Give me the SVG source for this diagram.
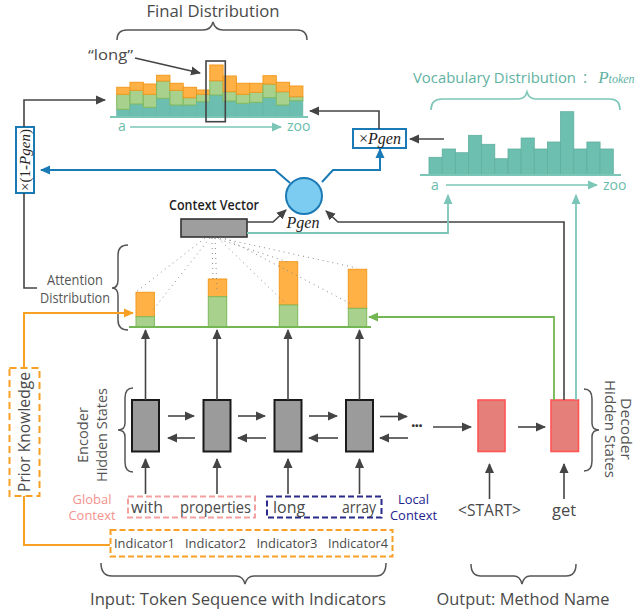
<svg xmlns="http://www.w3.org/2000/svg" width="635" height="613" viewBox="0 0 635 613">
<style>
text{font-family:"Open Sans","Noto Sans",sans-serif;fill:#4a4a4a}
.ser{font-family:"Liberation Serif","DejaVu Serif",serif;fill:#222}
.it{font-style:italic}
.ln{fill:none;stroke:#444;stroke-width:1.6}
.bl{fill:none;stroke:#1a7ab5;stroke-width:2}
.tl{fill:none;stroke:#7cc6b7;stroke-width:1.8}
.gr{fill:none;stroke:#74b653;stroke-width:1.8}
.or{fill:none;stroke:#f7a024;stroke-width:2}
.br{fill:none;stroke:#555;stroke-width:1.5}
.fo{fill:#ffb146;stroke:#f29a1e;stroke-width:1}
.fg{fill:#a9d18e;stroke:#7fb95c;stroke-width:1}
.ft{fill:#6cbfb0;stroke:#62b6a6;stroke-width:0.6}
.vb{fill:#6dbfaf;stroke:#5fb09f;stroke-width:0.8}
.enc{fill:#9b9b9b;stroke:#1a1a1a;stroke-width:2}
.dec{fill:#e57f7a;stroke:#ff5555;stroke-width:1.6}
.dot{fill:none;stroke:#888;stroke-width:1;stroke-dasharray:1 4}
</style>
<defs>
<marker id="ad" markerUnits="userSpaceOnUse" markerWidth="10" markerHeight="10" viewBox="0 0 10 10" refX="9" refY="5" orient="auto"><path d="M0,0.5 L10,5 L0,9.5 z" fill="#444"/></marker>
<marker id="ab" markerUnits="userSpaceOnUse" markerWidth="10" markerHeight="10" viewBox="0 0 10 10" refX="9" refY="5" orient="auto"><path d="M0,0.5 L10,5 L0,9.5 z" fill="#1a7ab5"/></marker>
<marker id="at" markerUnits="userSpaceOnUse" markerWidth="10" markerHeight="10" viewBox="0 0 10 10" refX="9" refY="5" orient="auto"><path d="M0,0.5 L10,5 L0,9.5 z" fill="#7cc6b7"/></marker>
<marker id="ag" markerUnits="userSpaceOnUse" markerWidth="10" markerHeight="10" viewBox="0 0 10 10" refX="9" refY="5" orient="auto"><path d="M0,0.5 L10,5 L0,9.5 z" fill="#74b653"/></marker>
<marker id="ao" markerUnits="userSpaceOnUse" markerWidth="10" markerHeight="10" viewBox="0 0 10 10" refX="9" refY="5" orient="auto"><path d="M0,0.5 L10,5 L0,9.5 z" fill="#f7a024"/></marker>
</defs>

<g id="final-distribution">
<text x="213" y="16.5" font-size="16" text-anchor="middle" textLength="133" lengthAdjust="spacingAndGlyphs">Final Distribution</text>
<path class="br" d="M117,40 Q117,30 127,30 L203,30 Q211,30 213,22 Q215,30 223,30 L297,30 Q307,30 307,40"/>
<text x="88" y="60" font-size="15" textLength="45" lengthAdjust="spacingAndGlyphs">“long”</text>
<line class="ln" x1="135" y1="58" x2="200" y2="73" marker-end="url(#ad)"/>
<g>
<rect class="ft" x="116.7" y="109.3" width="13.3" height="7.7"/><rect class="fg" x="116.7" y="94.3" width="13.3" height="15"/><rect class="fo" x="116.7" y="87.3" width="13.3" height="7"/>
<rect class="ft" x="130" y="104" width="13.3" height="13"/><rect class="fg" x="130" y="90.3" width="13.3" height="13.7"/><rect class="fo" x="130" y="82.3" width="13.3" height="8"/>
<rect class="ft" x="143.3" y="107.3" width="13.3" height="9.7"/><rect class="fg" x="143.3" y="94.3" width="13.3" height="13"/><rect class="fo" x="143.3" y="84" width="13.3" height="10.3"/>
<rect class="ft" x="156.6" y="98.3" width="13.3" height="18.7"/><rect class="fg" x="156.6" y="81" width="13.3" height="17.3"/><rect class="fo" x="156.6" y="75.3" width="13.3" height="5.7"/>
<rect class="ft" x="169.9" y="105" width="13.3" height="12"/><rect class="fg" x="169.9" y="90.3" width="13.3" height="14.7"/><rect class="fo" x="169.9" y="83.3" width="13.3" height="7"/>
<rect class="ft" x="183.2" y="105" width="13.3" height="12"/><rect class="fg" x="183.2" y="97.7" width="13.3" height="7.3"/><rect class="fo" x="183.2" y="87.3" width="13.3" height="10.4"/>
<rect class="ft" x="196.5" y="101.7" width="13.3" height="15.3"/><rect class="fg" x="196.5" y="94.3" width="13.3" height="7.4"/><rect class="fo" x="196.5" y="90" width="13.3" height="4.3"/>
<rect class="ft" x="209.8" y="95" width="13.3" height="22"/><rect class="fg" x="209.8" y="80.7" width="13.3" height="14.3"/><rect class="fo" x="209.8" y="65" width="13.3" height="15.7"/>
<rect class="ft" x="223.1" y="101" width="13.3" height="16"/><rect class="fg" x="223.1" y="91.7" width="13.3" height="9.3"/><rect class="fo" x="223.1" y="76" width="13.3" height="15.7"/>
<rect class="ft" x="236.4" y="103.3" width="13.3" height="13.7"/><rect class="fg" x="236.4" y="94.3" width="13.3" height="9"/><rect class="fo" x="236.4" y="83.3" width="13.3" height="11"/>
<rect class="ft" x="249.7" y="102.3" width="13.3" height="14.7"/><rect class="fg" x="249.7" y="92.3" width="13.3" height="10"/><rect class="fo" x="249.7" y="83.3" width="13.3" height="9"/>
<rect class="ft" x="263" y="97.7" width="13.3" height="19.3"/><rect class="fg" x="263" y="84" width="13.3" height="13.7"/><rect class="fo" x="263" y="75.7" width="13.3" height="8.3"/>
<rect class="ft" x="276.3" y="105" width="13.3" height="12"/><rect class="fg" x="276.3" y="91.7" width="13.3" height="13.3"/><rect class="fo" x="276.3" y="82.3" width="13.3" height="9.4"/>
<rect class="ft" x="289.6" y="100.7" width="13.3" height="16.3"/><rect class="fg" x="289.6" y="96.7" width="13.3" height="4"/><rect class="fo" x="289.6" y="86" width="13.3" height="10.7"/>
</g>
<line x1="110" y1="117" x2="308" y2="117" stroke="#7cc6b7" stroke-width="2"/>
<rect x="206" y="61" width="19.3" height="60.7" fill="none" stroke="#444" stroke-width="1.6"/>
<text x="118" y="131" font-size="14" style="fill:#6cbcad">a</text>
<line x1="130" y1="127" x2="281" y2="127" stroke="#7cc6b7" stroke-width="1.4" marker-end="url(#at)"/>
<text x="287" y="131" font-size="14" style="fill:#6cbcad">zoo</text>
</g>

<g id="vocabulary-distribution">
<text x="413" y="83" font-size="15" style="fill:#5fb2a2" textLength="163" lengthAdjust="spacingAndGlyphs">Vocabulary Distribution</text>
<text x="583" y="83" font-size="16" style="fill:#5fb2a2">:<tspan class="ser it" dx="11" font-size="17" style="fill:#5fb2a2">P</tspan><tspan class="ser it" font-size="12" style="fill:#5fb2a2">token</tspan></text>
<path d="M431,110 Q431,99 442,99 L518,99 Q525,99 527,92 Q529,99 536,99 L610,99 Q620,99 620,110" fill="none" stroke="#7cc6b7" stroke-width="1.6"/>
<g>
<rect class="vb" x="429" y="157.3" width="13.2" height="17.7"/>
<rect class="vb" x="442.2" y="149" width="13.2" height="26"/>
<rect class="vb" x="455.3" y="152.7" width="13.2" height="22.3"/>
<rect class="vb" x="468.5" y="135.3" width="13.2" height="39.7"/>
<rect class="vb" x="481.6" y="144.3" width="13.2" height="30.7"/>
<rect class="vb" x="494.8" y="158.7" width="13.2" height="16.3"/>
<rect class="vb" x="508" y="149" width="13.2" height="26"/>
<rect class="vb" x="521.1" y="138" width="13.2" height="37"/>
<rect class="vb" x="534.3" y="149" width="13.2" height="26"/>
<rect class="vb" x="547.4" y="142" width="13.2" height="33"/>
<rect class="vb" x="560.6" y="111.7" width="13.2" height="63.3"/>
<rect class="vb" x="573.8" y="149" width="13.2" height="26"/>
<rect class="vb" x="586.9" y="142" width="13.2" height="33"/>
<rect class="vb" x="600.1" y="149" width="13.2" height="26"/>
</g>
<line x1="420" y1="175" x2="621" y2="175" stroke="#7cc6b7" stroke-width="2"/>
<text x="431" y="190" font-size="14" style="fill:#6cbcad">a</text>
<line x1="446" y1="185" x2="597" y2="185" stroke="#7cc6b7" stroke-width="1.4" marker-end="url(#at)"/>
<text x="603" y="190" font-size="14" style="fill:#6cbcad">zoo</text>
</g>

<g id="times-one-minus-pgen">
<rect x="16" y="127" width="18" height="66" fill="#fff" stroke="#1a7ab5" stroke-width="2"/>
<text class="ser" transform="translate(29.5,160) rotate(-90)" font-size="15" text-anchor="middle">×(1-<tspan class="it">Pgen</tspan>)</text>
</g>

<g id="times-pgen">
<rect x="353" y="129" width="53" height="19" fill="#fff" stroke="#1a7ab5" stroke-width="2"/>
<text class="ser" x="380" y="143.5" font-size="16" text-anchor="middle">×<tspan class="it">Pgen</tspan></text>
</g>

<g id="pgen">
<circle cx="304" cy="196" r="18" fill="#7ccbf0" stroke="#1c7ab5" stroke-width="2"/>
<text class="ser it" x="303" y="228" font-size="16" text-anchor="middle">Pgen</text>
</g>

<g id="context-vector">
<text x="214" y="210" font-size="14" font-weight="600" text-anchor="middle" style="fill:#1e1e1e" textLength="90" lengthAdjust="spacingAndGlyphs">Context Vector</text>
<rect x="181" y="219" width="66" height="18" fill="#9e9e9e" stroke="#333" stroke-width="1.6"/>
</g>

<g id="attention-distribution">
<text x="75" y="285" font-size="14" text-anchor="middle" style="fill:#555" textLength="56" lengthAdjust="spacingAndGlyphs">Attention</text>
<text x="75" y="303" font-size="14" text-anchor="middle" style="fill:#555" textLength="70" lengthAdjust="spacingAndGlyphs">Distribution</text>
<path class="br" d="M128,245 Q118,245 118,255 L118,280 Q118,288 112,288 Q118,288 118,296 L118,320 Q118,330 128,330"/>
<rect class="fo" x="136" y="292.3" width="18.4" height="24.4"/><rect class="fg" x="136" y="316.7" width="18.4" height="10"/>
<rect class="fo" x="208.3" y="279" width="18.4" height="17.7"/><rect class="fg" x="208.3" y="296.7" width="18.4" height="30"/>
<rect class="fo" x="279.3" y="261.7" width="18.4" height="43.3"/><rect class="fg" x="279.3" y="305" width="18.4" height="21.7"/>
<rect class="fo" x="348.3" y="269.3" width="18.4" height="39"/><rect class="fg" x="348.3" y="308.3" width="18.4" height="18.4"/>
<line x1="129" y1="327" x2="371" y2="327" stroke="#74b653" stroke-width="2"/>
<g>
<line class="dot" x1="205" y1="238" x2="136" y2="292"/>
<line class="dot" x1="210" y1="238" x2="152" y2="311"/>
<line class="dot" x1="212" y1="238" x2="213" y2="281"/>
<line class="dot" x1="215" y1="238" x2="217" y2="292"/>
<line class="dot" x1="215" y1="238" x2="288" y2="262"/>
<line class="dot" x1="218" y1="238" x2="284" y2="302"/>
<line class="dot" x1="220" y1="238" x2="357" y2="268"/>
<line class="dot" x1="225" y1="238" x2="353" y2="305"/>
</g>
</g>

<g id="encoder">
<text transform="translate(88,435) rotate(-90)" font-size="15" text-anchor="middle" style="fill:#555" textLength="56" lengthAdjust="spacingAndGlyphs">Encoder</text>
<text transform="translate(107,435) rotate(-90)" font-size="15" text-anchor="middle" style="fill:#555" textLength="94" lengthAdjust="spacingAndGlyphs">Hidden States</text>
<path class="br" d="M133,388 Q125,388 125,398 L125,423 Q125,430 118,430 Q125,430 125,437 L125,462 Q125,472 133,472"/>
<rect id="enc1" class="enc" x="132" y="400" width="27" height="51.5"/>
<rect id="enc2" class="enc" x="203.5" y="400" width="27" height="51.5"/>
<rect id="enc3" class="enc" x="274.5" y="400" width="27" height="51.5"/>
<rect id="enc4" class="enc" x="346" y="400" width="27" height="51.5"/>
</g>

<g id="decoder">
<rect id="dec1" class="dec" x="478" y="400" width="27" height="51.5"/>
<rect id="dec2" class="dec" x="551" y="400" width="27.5" height="51.5"/>
<path class="br" d="M584,389 Q592,389 592,399 L592,423 Q592,430 599,430 Q592,430 592,437 L592,461 Q592,471 584,471"/>
<text transform="translate(605,429) rotate(90)" font-size="15" text-anchor="middle" style="fill:#555" textLength="98" lengthAdjust="spacingAndGlyphs">Hidden States</text>
<text transform="translate(620.5,429) rotate(90)" font-size="14.5" text-anchor="middle" style="fill:#555" textLength="62" lengthAdjust="spacingAndGlyphs">Decoder</text>
</g>

<g id="prior-knowledge">
<rect x="9.5" y="368" width="30" height="128" fill="none" stroke="#f7a024" stroke-width="2" stroke-dasharray="7 4"/>
<text transform="translate(30,432) rotate(-90)" font-size="15.5" text-anchor="middle" textLength="120" lengthAdjust="spacingAndGlyphs">Prior Knowledge</text>
</g>

<g id="global-context">
<text x="92" y="504" font-size="12.5" text-anchor="middle" style="fill:#f4938e" textLength="39" lengthAdjust="spacingAndGlyphs">Global</text>
<text x="92" y="520" font-size="12.5" text-anchor="middle" style="fill:#f4938e" textLength="47" lengthAdjust="spacingAndGlyphs">Context</text>
<rect x="128" y="496.5" width="127" height="21" fill="none" stroke="#f4a0a0" stroke-width="2" stroke-dasharray="6 3"/>
<text x="131" y="513" font-size="16">with</text>
<text x="180" y="513" font-size="16" textLength="71" lengthAdjust="spacingAndGlyphs">properties</text>
</g>

<g id="local-context">
<rect x="267" y="496.5" width="114.5" height="21" fill="none" stroke="#2a2a8a" stroke-width="2" stroke-dasharray="6 3"/>
<text x="273" y="513" font-size="16">long</text>
<text x="342" y="513" font-size="16" textLength="34" lengthAdjust="spacingAndGlyphs">array</text>
<text x="413.5" y="504" font-size="12.5" text-anchor="middle" style="fill:#23238e" textLength="31" lengthAdjust="spacingAndGlyphs">Local</text>
<text x="413.5" y="520" font-size="12.5" text-anchor="middle" style="fill:#23238e" textLength="47" lengthAdjust="spacingAndGlyphs">Context</text>
</g>

<g id="indicators">
<rect x="110.5" y="530" width="282" height="26.5" fill="none" stroke="#f7a024" stroke-width="2" stroke-dasharray="6 3"/>
<text x="114" y="548" font-size="13" textLength="61" lengthAdjust="spacingAndGlyphs">Indicator1</text>
<text x="185" y="548" font-size="13" textLength="61" lengthAdjust="spacingAndGlyphs">Indicator2</text>
<text x="256.5" y="548" font-size="13" textLength="61" lengthAdjust="spacingAndGlyphs">Indicator3</text>
<text x="328" y="548" font-size="13" textLength="60" lengthAdjust="spacingAndGlyphs">Indicator4</text>
</g>

<g id="outputs">
<text x="489.5" y="516" font-size="15.5" text-anchor="middle" textLength="63" lengthAdjust="spacingAndGlyphs">&lt;START&gt;</text>
<text x="564" y="516" font-size="16.5" text-anchor="middle">get</text>
</g>

<g id="input-label">
<path class="br" d="M101,563 Q101,576 112,576 L236,576 Q243,576 245,584 Q247,576 254,576 L376,576 Q386,576 386,563"/>
<text x="238" y="605" font-size="16.5" text-anchor="middle" textLength="296" lengthAdjust="spacingAndGlyphs">Input: Token Sequence with Indicators</text>
</g>
<g id="output-label">
<path class="br" d="M471,564 Q471,576 481,576 L514,576 Q520,576 522,584 Q524,576 530,576 L566,576 Q576,576 576,564"/>
<text x="523" y="605" font-size="16.5" text-anchor="middle" textLength="173" lengthAdjust="spacingAndGlyphs">Output: Method Name</text>
</g>

<g id="connectors">
<polyline class="ln" points="24,127 24,100 105,100" marker-end="url(#ad)"/>
<polyline class="ln" points="24,193 24,288 37,288"/>
<polyline class="bl" points="290,183 275,170 41,170" marker-end="url(#ab)"/>
<polyline class="bl" points="322,182 333,170 380,170 380,149" marker-end="url(#ab)"/>
<polyline class="ln" points="379,129 379,111 310,111" marker-end="url(#ad)"/>
<line class="ln" x1="444" y1="139" x2="410" y2="139" marker-end="url(#ad)"/>
<polyline class="ln" points="247,222 273,222 286,210" marker-end="url(#ad)"/>
<polyline class="ln" points="564,400 564,222 338,222 326,211" marker-end="url(#ad)"/>
<polyline class="tl" points="247,233 448,233 448,195" marker-end="url(#at)"/>
<line class="tl" x1="576" y1="400" x2="576" y2="195" marker-end="url(#at)"/>
<polyline class="gr" points="554,400 554,317 369,317" marker-end="url(#ag)"/>
<polyline class="or" points="24,368 24,313 133,313" marker-end="url(#ao)"/>
<polyline class="or" points="24,496 24,545 110,545"/>
<line class="ln" x1="145.5" y1="400" x2="145.5" y2="330" marker-end="url(#ad)"/>
<line class="ln" x1="217" y1="400" x2="217" y2="330" marker-end="url(#ad)"/>
<line class="ln" x1="288" y1="400" x2="288" y2="330" marker-end="url(#ad)"/>
<line class="ln" x1="359.5" y1="400" x2="359.5" y2="330" marker-end="url(#ad)"/>
<line class="ln" x1="145.5" y1="494" x2="145.5" y2="459" marker-end="url(#ad)"/>
<line class="ln" x1="217" y1="494" x2="217" y2="459" marker-end="url(#ad)"/>
<line class="ln" x1="288" y1="494" x2="288" y2="459" marker-end="url(#ad)"/>
<line class="ln" x1="359.5" y1="494" x2="359.5" y2="459" marker-end="url(#ad)"/>
<line class="ln" x1="489.5" y1="499" x2="489.5" y2="464" marker-end="url(#ad)"/>
<line class="ln" x1="564" y1="499" x2="564" y2="464" marker-end="url(#ad)"/>
<line class="ln" x1="168" y1="416" x2="194" y2="416" marker-end="url(#ad)"/>
<line class="ln" x1="195" y1="438" x2="168" y2="438" marker-end="url(#ad)"/>
<line class="ln" x1="238" y1="416" x2="265" y2="416" marker-end="url(#ad)"/>
<line class="ln" x1="266" y1="438" x2="238" y2="438" marker-end="url(#ad)"/>
<line class="ln" x1="309" y1="416" x2="337" y2="416" marker-end="url(#ad)"/>
<line class="ln" x1="338" y1="438" x2="309" y2="438" marker-end="url(#ad)"/>
<line class="ln" x1="380" y1="416.5" x2="407" y2="416.5" marker-end="url(#ad)"/>
<line class="ln" x1="408" y1="438" x2="380" y2="438" marker-end="url(#ad)"/>
<line class="ln" x1="433" y1="427" x2="471" y2="427" marker-end="url(#ad)"/>
<line class="ln" x1="518" y1="427" x2="545" y2="427" marker-end="url(#ad)"/>
<text x="411" y="431" font-size="16" font-weight="bold" letter-spacing="-1" style="fill:#333">···</text>
</g>
</svg>
